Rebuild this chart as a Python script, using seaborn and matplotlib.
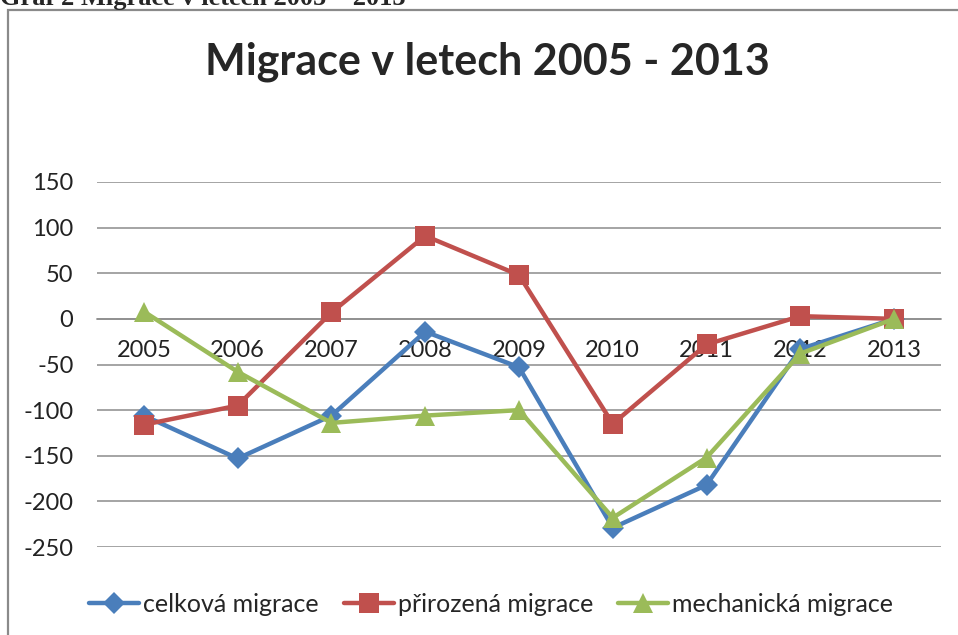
import matplotlib
matplotlib.use("Agg")
import matplotlib.pyplot as plt
import numpy as np
import pandas as pd
import seaborn as sns
from matplotlib.patches import Rectangle

# data
roky = [2005, 2006, 2007, 2008, 2009, 2010, 2011, 2012, 2013]
celkova = [-106, -153, -106, -14, -53, -229, -182, -33, 0]
prirozena = [-116, -95, 7, 91, 48, -115, -28, 3, 0]
mechanicka = [8, -58, -114, -106, -100, -218, -152, -38, 0]

serie = ["celková migrace", "přirozená migrace", "mechanická migrace"]
barvy = ["#4A7EBB", "#C0504D", "#9BBB59"]
znacky = ["D", "s", "^"]
velikosti = [11, 14, 14]
y_ticks = [150, 100, 50, 0, -50, -100, -150, -200, -250]

df = pd.DataFrame({"rok": roky * 3,
                   "hodnota": celkova + prirozena + mechanicka,
                   "typ": sum([[s] * len(roky) for s in serie], [])})

sns.set_theme(style="white")
plt.rcParams["font.family"] = ["Lato", "DejaVu Sans"]

W, H = 958, 635
fig = plt.figure(figsize=(W / 100, H / 100), dpi=100)
ax = fig.add_axes([97 / W, 1 - 547 / H, (941 - 97) / W, (547 - 182) / H])

for i, s in enumerate(serie):
    sns.lineplot(data=df[df["typ"] == s], x="rok", y="hodnota", ax=ax,
                 color=barvy[i], marker=znacky[i], markersize=velikosti[i],
                 markeredgewidth=0, linewidth=3.2, label=s, zorder=3 + i)

ax.set_xlim(roky[0] - 0.5, roky[-1] + 0.5)
ax.set_ylim(-250, 150)
for sp in ["top", "right", "left"]:
    ax.spines[sp].set_visible(False)
ax.spines["bottom"].set_position(("data", 0))
ax.spines["bottom"].set_color("#8c8c8c")
ax.spines["bottom"].set_linewidth(1.1)
ax.set_yticks(y_ticks)
ax.set_yticklabels([str(v) for v in y_ticks])
ax.set_xticks(roky)
ax.set_xticklabels([str(r) for r in roky])
ax.grid(axis="y", color="#8c8c8c", linewidth=1.1)
ax.grid(axis="x", visible=False)
ax.tick_params(axis="y", length=0, pad=17, labelsize=17, labelcolor="#222222")
ax.tick_params(axis="x", length=0, pad=15, labelsize=17, labelcolor="#222222")
ax.set_xlabel("")
ax.set_ylabel("")

ax.legend(loc="center", bbox_to_anchor=(491 / W, 1 - 604 / H),
          bbox_transform=fig.transFigure, ncol=3, frameon=False,
          fontsize=18, handlelength=2.0, columnspacing=1.0, handletextpad=0.15)

fig.text(487 / W, 1 - 62 / H, "Migrace v letech 2005 - 2013",
         fontsize=31, fontweight="bold", ha="center", va="center")
fig.text(0, 1 - 5 / H, "Graf 2 Migrace v letech 2005 – 2013",
         fontsize=19, fontweight="bold", family="Liberation Serif",
         ha="left", va="baseline")

fig.patches.append(Rectangle((8 / W, -0.1), 1.2, 1 - 10 / H + 0.1,
                             transform=fig.transFigure, fill=False,
                             edgecolor="#8a8a8a", linewidth=1.6))

fig.savefig("out.png", dpi=100)
